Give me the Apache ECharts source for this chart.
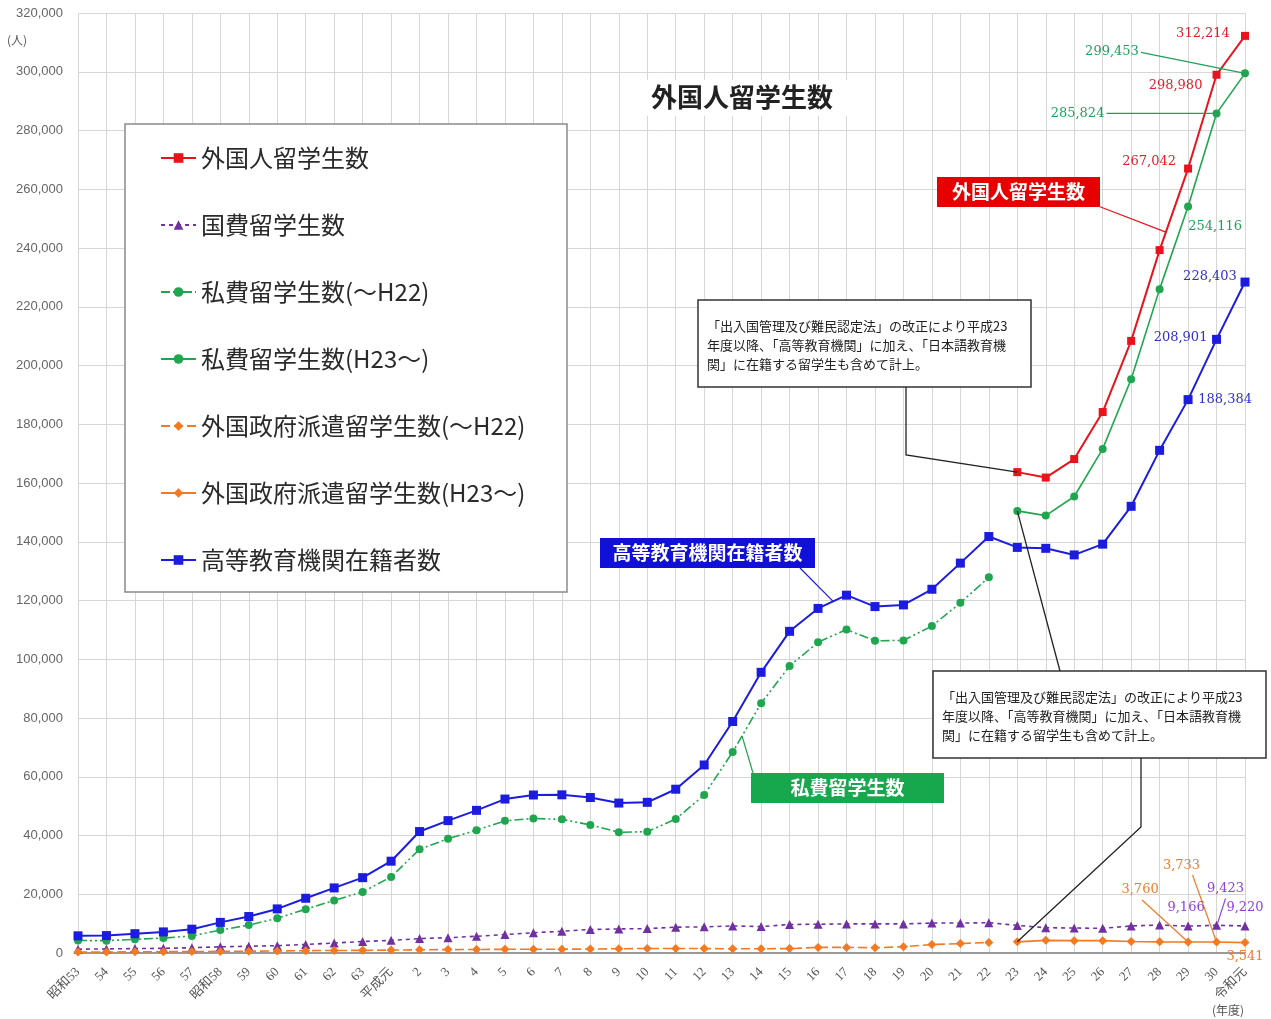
<!DOCTYPE html>
<html><head><meta charset="utf-8">
<script src="https://cdn.jsdelivr.net/npm/echarts@6/dist/echarts.min.js"></script>
<style>html,body{margin:0;padding:0;background:#fff}#main{width:1271px;height:1019px}</style>
</head><body><div id="main"></div>
<script>
// ---- data ----
const categories = ['昭和53','54','55','56','57','昭和58','59','60','61','62','63','平成元',
  '2','3','4','5','6','7','8','9','10','11','12','13','14','15','16','17','18','19','20',
  '21','22','23','24','25','26','27','28','29','30','令和元'];
const yTicks = [0,20000,40000,60000,80000,100000,120000,140000,160000,180000,200000,220000,240000,260000,280000,300000,320000];
// 外国人留学生数 (H23~)
const totalH23 = [null,null,null,null,null,null,null,null,null,null,null,null,null,null,null,null,null,null,null,null,null,null,null,null,null,null,null,null,null,null,null,null,null,
  163697,161848,168145,184155,208379,239287,267042,298980,312214];
// 国費留学生数
const govJapan = [1300,1400,1500,1600,1800,2100,2300,2500,2900,3400,3900,4300,4900,5200,5700,6300,6900,7400,8000,8200,
  8300,8800,8900,9200,9000,9700,9800,9900,9900,9900,10200,10200,10300,9400,8600,8500,8400,9200,9500,9166,9423,9220];
// 私費留学生数(～H22)
const privateOld = [4250,4200,4650,5100,5800,7800,9500,11800,14900,17900,20800,25900,35300,38900,41800,45000,45800,45500,43600,41100,
  41300,45600,53800,68400,85000,97700,105800,110100,106300,106400,111300,119200,127900,
  null,null,null,null,null,null,null,null,null];
// 私費留学生数(H23～)
const privateNew = [null,null,null,null,null,null,null,null,null,null,null,null,null,null,null,null,null,null,null,null,null,null,null,null,null,null,null,null,null,null,null,null,null,
  150500,148900,155400,171600,195300,226000,254116,285824,299453];
// 外国政府派遣留学生数(～H22)
const foreignGovOld = [300,330,400,450,500,550,600,700,800,850,900,1000,1100,1150,1200,1250,1300,1300,1350,1450,
  1550,1550,1500,1450,1450,1500,1900,1900,1800,2100,2900,3200,3600,
  null,null,null,null,null,null,null,null,null];
// 外国政府派遣留学生数(H23～)
const foreignGovNew = [null,null,null,null,null,null,null,null,null,null,null,null,null,null,null,null,null,null,null,null,null,null,null,null,null,null,null,null,null,null,null,null,null,
  3800,4300,4200,4200,3900,3800,3760,3733,3541];
// 高等教育機関在籍者数
const higherEd = [5849,5933,6572,7179,8116,10428,12410,15009,18631,22154,25643,31251,41347,45066,48561,52405,53787,53847,52921,51047,
  51298,55755,64011,78812,95550,109508,117302,121812,117927,118498,123829,132720,141774,138075,137756,135519,139185,152062,171122,188384,208901,228403];

const names = ['外国人留学生数','国費留学生数','私費留学生数(～H22)','私費留学生数(H23～)','外国政府派遣留学生数(～H22)','外国政府派遣留学生数(H23～)','高等教育機関在籍者数'];

const C = {red:'#e8131b', purple:'#7030a0', green:'#1fa64f', orange:'#f47920', blue:'#1c1ce0'};
const JP = '"Noto Sans CJK JP", sans-serif';

const chart = echarts.init(document.getElementById('main'));
const option = {
  backgroundColor:'#fff',
  animation:false,
  grid:{left:78, right:26, top:13, bottom:66},
  legend:{
    orient:'vertical', left:155, top:141, itemWidth:35, itemHeight:12, itemGap:43, itemTextGap:7, z:10,
    textStyle:{fontSize:24, lineHeight:24, color:'#2a2a2a', fontFamily:JP},
    data:names
  },
  xAxis:{type:'category', data:categories, boundaryGap:false,
    axisLine:{lineStyle:{color:'#999', width:2}}, axisTick:{show:false},
    axisLabel:{interval:0, rotate:45, margin:17, color:'#555', fontSize:13, fontFamily:'"Liberation Serif", "Noto Sans CJK JP"'},
    splitLine:{show:true, interval:0, lineStyle:{color:'#d6d6d6', width:1}}},
  yAxis:{type:'value', min:yTicks[0], max:yTicks[yTicks.length-1], interval:yTicks[1]-yTicks[0],
    axisLine:{show:false}, axisTick:{show:false},
    axisLabel:{margin:15, color:'#666', fontSize:13, fontFamily:'"Liberation Sans", sans-serif', formatter:v=>v.toLocaleString('en-US')},
    splitLine:{lineStyle:{color:'#d6d6d6', width:1}}},
  series:[
    {name:names[0], type:'line', data:totalH23, symbol:'rect', symbolSize:8, color:C.red, lineStyle:{width:2, color:C.red}, z:5},
    {name:names[1], type:'line', data:govJapan, symbol:'triangle', symbolSize:9, color:C.purple, lineStyle:{width:1.6, type:[4,4], color:C.purple}},
    {name:names[2], type:'line', data:privateOld, symbol:'circle', symbolSize:8, color:C.green, lineStyle:{width:1.6, type:[9,3,2,3,2,3], color:C.green}},
    {name:names[3], type:'line', data:privateNew, symbol:'circle', symbolSize:8, color:C.green, lineStyle:{width:1.6, color:C.green}},
    {name:names[4], type:'line', data:foreignGovOld, symbol:'diamond', symbolSize:9, color:C.orange, lineStyle:{width:1.6, type:[9,4], color:C.orange}},
    {name:names[5], type:'line', data:foreignGovNew, symbol:'diamond', symbolSize:9, color:C.orange, lineStyle:{width:1.6, color:C.orange}},
    {name:names[6], type:'line', data:higherEd, symbol:'rect', symbolSize:9, color:C.blue, lineStyle:{width:2, color:C.blue}, z:4}
  ]
};
chart.setOption(option);

// ---- annotations anchored to data points ----
const P = (i, v) => chart.convertToPixel({gridIndex:0}, [i, v]);
const lerp = (a, b, t) => [a[0]+(b[0]-a[0])*t, a[1]+(b[1]-a[1])*t];
const g = [];
const NUM = '13px "DejaVu Serif", serif';
function vlabel(text, pt, dx, dy, color, align){
  g.push({type:'text', z:30, x:pt[0]+dx, y:pt[1]+dy,
    style:{text, fill:color, font:NUM, align:align||'center', verticalAlign:'middle', textAlign:align||'center', textVerticalAlign:'middle'}});
}
function line(points, color, w){
  g.push({type:'polyline', z:29, shape:{points}, style:{stroke:color, lineWidth:w||1.2, fill:null}});
}
function box(x, y, w, h, fill, stroke, sw){
  g.push({type:'rect', z:6, shape:{x, y, width:w, height:h}, style:{fill, stroke:stroke||null, lineWidth:sw||0}});
}
function tagBox(x, y, w, h, fill, text){
  box(x, y, w, h, fill);
  g.push({type:'text', z:31, x:x+w/2, y:y+h/2, style:{text, fill:'#fff', font:'bold 19px '+JP, align:'center', verticalAlign:'middle', textAlign:'center', textVerticalAlign:'middle'}});
}
const iR1 = 41, iH30 = 40, iH29 = 39, iH23 = 33;

// title
box(628, 80, 230, 36, '#fff');
g.push({type:'text', z:31, x:742, y:97, style:{text:'外国人留学生数', fill:'#222', font:'bold 26px '+JP, align:'center', verticalAlign:'middle', textAlign:'center', textVerticalAlign:'middle'}});
// units
g.push({type:'text', z:31, x:17, y:40, style:{text:'(人)', fill:'#555', font:'12px '+JP, align:'center', verticalAlign:'middle', textAlign:'center', textVerticalAlign:'middle'}});
g.push({type:'text', z:31, x:1228, y:1010, style:{text:'(年度)', fill:'#555', font:'12px '+JP, align:'center', verticalAlign:'middle', textAlign:'center', textVerticalAlign:'middle'}});

// legend frame
box(125, 124, 442, 468, '#fff', '#8a8a8a', 1.5);

// red values
vlabel('312,214', P(iR1, totalH23[iR1]), -42, -2, '#e0202a');
vlabel('298,980', P(iH30, totalH23[iH30]), -41, 11, '#e0202a');
vlabel('267,042', P(iH29, totalH23[iH29]), -39, -7, '#e0202a');
// green values
{ const p = P(iR1, privateNew[iR1]); vlabel('299,453', p, -133, -22, '#22a05a'); line([[p[0]-104, p[1]-21], p], '#22a05a'); }
{ const p = P(iH30, privateNew[iH30]); vlabel('285,824', p, -139, 0, '#22a05a'); line([[p[0]-110, p[1]], p], '#22a05a'); }
vlabel('254,116', P(iH29, privateNew[iH29]), 27, 20, '#22a05a');
// blue values
vlabel('228,403', P(iR1, higherEd[iR1]), -35, -5, '#3030c8');
vlabel('208,901', P(iH30, higherEd[iH30]), -36, -2, '#3030c8');
vlabel('188,384', P(iH29, higherEd[iH29]), 37, 0, '#3030c8');
// purple values
{ const p = P(iH29, govJapan[iH29]); vlabel('9,166', p, -2, -18, '#9040e0'); }
{ const p = P(iH30, govJapan[iH30]); vlabel('9,423', p, 9, -37, '#9040e0'); line([[p[0]+9, p[1]-27], [p[0]+1, p[1]-2]], '#9040e0'); }
{ const p = P(iR1, govJapan[iR1]); vlabel('9,220', p, 0, -18, '#9040e0'); }
// orange values
{ const p = P(iH29, foreignGovNew[iH29]); vlabel('3,760', p, -48, -52, '#f07a2a'); line([[p[0]-46, p[1]-42], [p[0], p[1]]], '#f07a2a'); }
{ const p = P(iH30, foreignGovNew[iH30]); vlabel('3,733', p, -35, -76, '#f07a2a'); line([[p[0]-24, p[1]-67], [p[0], p[1]]], '#f07a2a'); }
{ const p = P(iR1, foreignGovNew[iR1]); vlabel('3,541', p, 0, 14, '#f07a2a'); }

// series tags
tagBox(937, 177, 163, 30, '#e60000', '外国人留学生数');
line([[1098, 206], lerp(P(38, totalH23[38]), P(39, totalH23[39]), 0.22)], C.red);
tagBox(600, 538, 215, 30, '#1010d6', '高等教育機関在籍者数');
line([[800, 568], lerp(P(26, higherEd[26]), P(27, higherEd[27]), 0.53)], C.blue);
tagBox(751, 773, 193, 30, '#17a74d', '私費留学生数');
line([[753, 773], lerp(P(23, privateOld[23]), P(24, privateOld[24]), 0.33)], C.green);

// note boxes
const note = '「出入国管理及び難民認定法」の改正により平成23\n年度以降、「高等教育機関」に加え、「日本語教育機\n関」に在籍する留学生も含めて計上。';
function noteBox(x, y){
  box(x, y, 333, 87, '#fff', '#333', 1.5);
  g.push({type:'text', z:31, x:x+9, y:y+17, style:{text:note, fill:'#222', font:'13px '+JP, lineHeight:19, align:'left', verticalAlign:'top', textAlign:'left', textVerticalAlign:'top'}});
}
noteBox(698, 300);
noteBox(933, 671);
line([[906, 387], [906, 455], P(iH23, totalH23[iH23])], '#222', 1.3);
line([[1060, 671], P(iH23, privateNew[iH23])], '#222', 1.3);
line([[1141, 758], [1141, 827], P(iH23, foreignGovNew[iH23])], '#222', 1.3);

chart.setOption({graphic:g});
</script></body></html>
